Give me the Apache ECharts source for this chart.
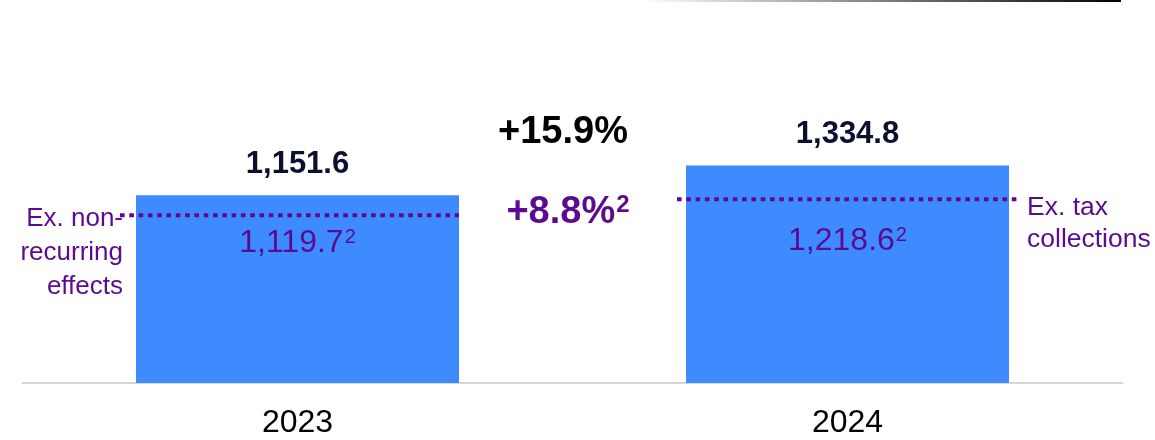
<!DOCTYPE html>
<html>
<head>
<meta charset="utf-8">
<script src="https://cdn.jsdelivr.net/npm/echarts@6/dist/echarts.min.js"></script>
<style>
html,body{margin:0;padding:0;background:#fff;}
#c{width:1155px;height:440px;}
</style>
</head>
<body>
<div id="c"></div>
<script>
// ---- data ----
const categories = ['2023', '2024'];
const reportedValues = [1151.6, 1334.8];
const reportedLabels = ['1,151.6', '1,334.8'];
const adjustedLabels = ['1,119.7', '1,218.6'];
const dottedLevels = [1029, 1128];   // estimated position of the dotted "ex." lines
const growthReported = '+15.9%';
const growthAdjusted = '+8.8%';
const noteLeft = 'Ex. non-\nrecurring\neffects';
const noteRight = 'Ex. tax\ncollections';

const BLUE = '#3d8bff';
const PURPLE = '#5c0a8f';
const NAVY = '#0b0f30';
const FONT = '"Liberation Sans", Arial, sans-serif';

const chart = echarts.init(document.getElementById('c'), null, {renderer: 'canvas'});

// per-item styling offsets for the dotted lines and inner labels
const extLeft = [16, 9];
const extRight = [0, 9];
const innerOffset = [28, 42];

chart.setOption({
  animation: false,
  grid: {left: 22.5, right: 32.5, top: 57, bottom: 57},
  xAxis: {
    type: 'category',
    data: categories,
    axisLine: {lineStyle: {color: '#d6d6d6', width: 2}},
    axisTick: {show: false},
    axisLabel: {fontSize: 32, color: '#000', fontFamily: FONT, margin: 24}
  },
  yAxis: {type: 'value', min: 0, max: 2000, show: false, splitLine: {show: false}},
  series: [
    {
      type: 'bar',
      data: reportedValues,
      barWidth: 323,
      itemStyle: {color: BLUE},
      label: {
        show: true,
        position: 'top',
        distance: 15,
        formatter: p => reportedLabels[p.dataIndex],
        fontSize: 31,
        fontWeight: 'bold',
        color: NAVY,
        fontFamily: FONT
      },
      z: 1
    },
    {
      type: 'custom',
      data: dottedLevels.map((v, i) => [i, v]),
      z: 5,
      renderItem: function (params, api) {
        const i = params.dataIndex;
        const p = api.coord([api.value(0), api.value(1)]);
        const half = 323 / 2;
        return {
          type: 'group',
          children: [
            {
              type: 'line',
              shape: {x1: p[0] - half - extLeft[i], y1: p[1], x2: p[0] + half + extRight[i], y2: p[1]},
              style: {stroke: PURPLE, lineWidth: 4, lineDash: [4.6, 4.7]}
            },
            {
              type: 'text',
              x: p[0],
              y: p[1] + innerOffset[i],
              style: {
                text: '{n|' + adjustedLabels[i] + '}{s|2}',
                align: 'center',
                verticalAlign: 'middle',
                rich: {
                  n: {fontSize: 32, fontFamily: FONT, fill: PURPLE},
                  s: {fontSize: 20, fontFamily: FONT, fill: PURPLE, padding: [0, 0, 12, 1]}
                }
              }
            }
          ]
        };
      }
    }
  ],
  graphic: [
    {
      type: 'line',
      shape: {x1: 645, y1: 1, x2: 1121, y2: 1},
      style: {
        lineWidth: 2,
        stroke: new echarts.graphic.LinearGradient(0, 0, 1, 0, [
          {offset: 0, color: 'rgba(0,0,0,0)'},
          {offset: 1, color: '#000'}
        ])
      }
    },
    {
      type: 'text',
      x: 563, y: 133,
      style: {text: growthReported, font: 'bold 38px ' + FONT, fill: '#000', align: 'center', verticalAlign: 'middle'}
    },
    {
      type: 'text',
      x: 568, y: 213,
      style: {
        text: '{n|' + growthAdjusted + '}{s|2}',
        align: 'center', verticalAlign: 'middle',
        rich: {
          n: {fontSize: 38, fontWeight: 'bold', fontFamily: FONT, fill: PURPLE},
          s: {fontSize: 24, fontWeight: 'bold', fontFamily: FONT, fill: PURPLE, padding: [0, 0, 15, 1]}
        }
      }
    },
    {
      type: 'text',
      x: 123, y: 253,
      style: {text: noteLeft, fontSize: 26, fontFamily: FONT, fill: PURPLE, align: 'right', verticalAlign: 'middle', lineHeight: 34}
    },
    {
      type: 'text',
      x: 1027, y: 224,
      style: {text: noteRight, fontSize: 26.5, fontFamily: FONT, fill: PURPLE, align: 'left', verticalAlign: 'middle', lineHeight: 32}
    }
  ]
});
</script>
</body>
</html>
